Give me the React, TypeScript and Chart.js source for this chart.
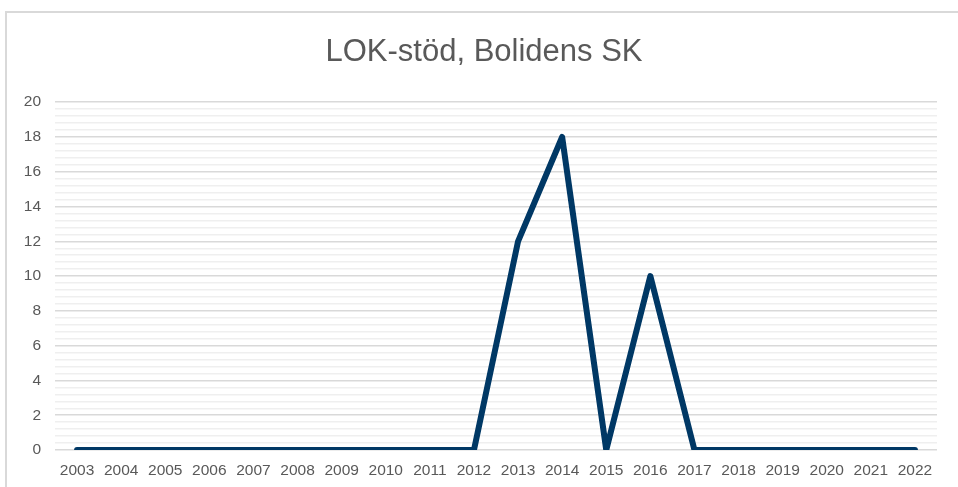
import React, { useEffect, useRef } from "react";
import { Chart, registerables } from "chart.js";

Chart.register(...registerables);

const years = ["2003","2004","2005","2006","2007","2008","2009","2010","2011","2012","2013","2014","2015","2016","2017","2018","2019","2020","2021","2022"];
const lokStod = [0,0,0,0,0,0,0,0,0,0,12,18,0,10,0,0,0,0,0,0];
const yMin = 0;
const yMax = 20;
const majorStep = 2;
const minorStep = 0.4;
const titleText = "LOK-stöd, Bolidens SK";

const isMajor = (v: number) => Math.abs(v / majorStep - Math.round(v / majorStep)) < 1e-6;

export default function App() {
  const ref = useRef<HTMLCanvasElement | null>(null);
  useEffect(() => {
    if (!ref.current) return;
    const chart = new Chart(ref.current, {
      type: "line",
      data: {
        labels: years,
        datasets: [
          {
            data: lokStod,
            yAxisID: "y",
            borderColor: "#003865",
            borderWidth: 6,
            borderCapStyle: "round",
            borderJoinStyle: "round",
            pointRadius: 0,
            pointHoverRadius: 0,
            fill: false,
            tension: 0,
          },
        ],
      },
      options: {
        animation: false,
        responsive: false,
        maintainAspectRatio: false,
        layout: { padding: { left: 10, right: 0, top: 0, bottom: 0 } },
        plugins: {
          legend: { display: false },
          tooltip: { enabled: false },
          title: {
            display: true,
            text: titleText,
            color: "#595959",
            font: { family: "'Liberation Sans', Arial, sans-serif", size: 31, weight: "normal" },
            padding: { top: 34, bottom: 31 },
          },
        },
        scales: {
          x: {
            offset: true,
            grid: { display: false, drawTicks: false },
            border: { display: false },
            ticks: {
              color: "#595959",
              font: { family: "'Liberation Sans', Arial, sans-serif", size: 15.5 },
              padding: 11,
              maxRotation: 0,
              autoSkip: false,
            },
            afterFit: (s: any) => { s.height = 37; },
          },
          yMinor: {
            position: "left",
            min: yMin,
            max: yMax,
            weight: 1,
            grid: { drawTicks: false, color: "#efefef", lineWidth: 1.5 },
            border: { display: false },
            ticks: { display: false, autoSkip: false },
            afterBuildTicks: (s: any) => {
              const t: { value: number }[] = [];
              const n = Math.round((yMax - yMin) / minorStep);
              for (let i = 0; i <= n; i++) {
                const v = +(yMin + i * minorStep).toFixed(6);
                if (!isMajor(v)) t.push({ value: v });
              }
              s.ticks = t;
            },
            afterFit: (s: any) => { s.width = 0; },
          },
          y: {
            position: "left",
            min: yMin,
            max: yMax,
            weight: 0,
            grid: { drawTicks: false, color: "#d9d9d9", lineWidth: 1.5 },
            border: { display: false },
            ticks: {
              stepSize: majorStep,
              color: "#595959",
              font: { family: "'Liberation Sans', Arial, sans-serif", size: 15.5 },
              padding: 14,
            },
            afterFit: (s: any) => { s.width = 45; },
          },
          yRight: {
            position: "right",
            display: true,
            grid: { display: false, drawTicks: false },
            border: { display: false },
            ticks: { display: false },
            afterFit: (s: any) => { s.width = 21; },
          },
        },
      },
    });
    return () => chart.destroy();
  }, []);
  return (
    <div style={{ position: "fixed", left: 0, top: 0, width: 958, height: 487, background: "#fff", overflow: "hidden" }}>
      <div style={{ position: "absolute", left: 5, top: 11, width: 980, height: 500, border: "2px solid #d9d9d9", boxSizing: "border-box" }} />
      <canvas ref={ref} width={958} height={487} style={{ position: "absolute", left: 0, top: 0 }} />
    </div>
  );
}
